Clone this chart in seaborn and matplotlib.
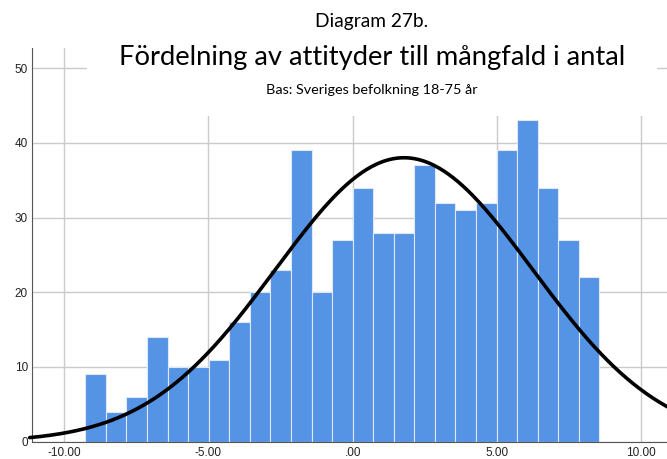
import numpy as np
import pandas as pd
import matplotlib
matplotlib.use("Agg")
from matplotlib import pyplot as plt
from matplotlib.patches import Rectangle
import seaborn as sns

# histogram counts per bin (left to right)
counts = [9, 4, 6, 14, 10, 10, 11, 16, 20, 23, 39, 20, 27, 34, 28, 28, 37, 32, 31, 32, 39, 43, 34, 27, 22]
bin_start = -9.27
bin_width = 0.713

# fitted normal curve parameters
curve_mean = 1.78
curve_sd = 4.46

x_ticks = [-10, -5, 0, 5, 10]
x_tick_labels = ["-10.00", "-5.00", ".00", "5.00", "10.00"]
y_ticks = [0, 10, 20, 30, 40, 50]

header = "Diagram 27b."
title = "Fördelning av attityder till mångfald i antal"
subtitle = "Bas: Sveriges befolkning 18-75 år"

sns.set_style("white")
plt.rcParams["font.family"] = ["Lato", "DejaVu Sans"]

edges = bin_start + bin_width * np.arange(len(counts) + 1)
df = pd.DataFrame({"score": (edges[:-1] + edges[1:]) / 2, "n": counts})

fig = plt.figure(figsize=(6.67, 4.59), dpi=100)
ax = fig.add_axes([32 / 667, 1 - 441.7 / 459, 1 - 32 / 667, (441.7 - 48) / 459])

sns.histplot(data=df, x="score", weights="n", bins=list(edges), ax=ax,
             color="#5593E4", alpha=1.0, edgecolor="#DDE8F8", linewidth=0.8, zorder=2)

# normal curve scaled to counts
n_total = sum(counts)
xs = np.linspace(-11.2, 11.0, 400)
ys = n_total * bin_width / (curve_sd * np.sqrt(2 * np.pi)) * np.exp(-0.5 * ((xs - curve_mean) / curve_sd) ** 2)
ax.plot(xs, ys, color="black", linewidth=2.6, zorder=3, clip_on=False)

ax.set_xlim(-11.12, 10.9)
ax.set_ylim(0, 52.7)
ax.set_xticks(x_ticks)
ax.set_xticklabels(x_tick_labels)
ax.set_yticks(y_ticks)
ax.set_xlabel("")
ax.set_ylabel("")
ax.grid(True, color="#CBCBCB", linewidth=1.0, zorder=0)
ax.set_axisbelow(True)
for side in ["top", "right"]:
    ax.spines[side].set_visible(False)
ax.spines["left"].set_color("#555555")
ax.spines["bottom"].set_color("#555555")
ax.tick_params(axis="both", length=0, labelsize=8.5, colors="#222222", pad=3)
ax.tick_params(axis="x", pad=4)
for lab in ax.get_xticklabels() + ax.get_yticklabels():
    lab.set_fontfamily("Liberation Sans")

# white box behind the title block, hiding the gridlines there
ax.add_patch(Rectangle((87 / 667, 1 - 116 / 459), (657 - 87) / 667, (116 - 46) / 459,
                       transform=fig.transFigure, facecolor="white", edgecolor="none", zorder=1))

fig.text(0.557, 1 - 21 / 459, header, ha="center", va="center", fontsize=13.8, color="black")
fig.text(0.558, 1 - 57 / 459, title, ha="center", va="center", fontsize=19.7, color="black")
fig.text(0.557, 1 - 90 / 459, subtitle, ha="center", va="center", fontsize=10.4, color="black")

fig.savefig("out.png", dpi=100)
plt.close(fig)
